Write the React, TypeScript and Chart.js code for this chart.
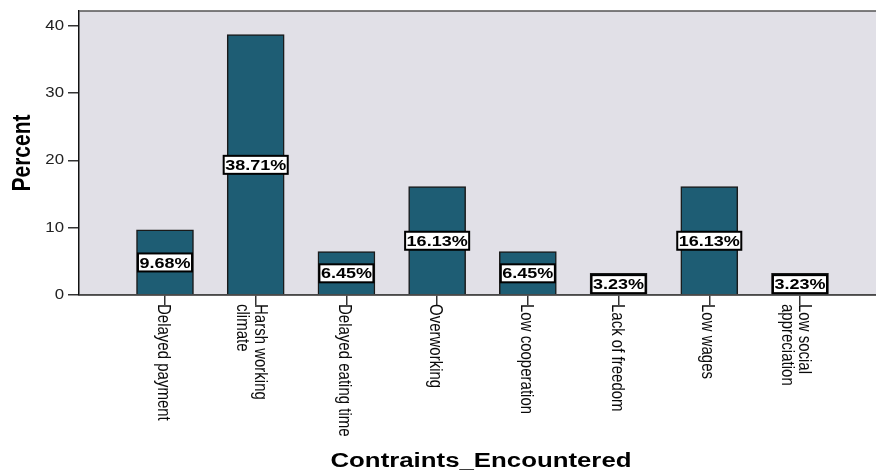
import React, { useEffect, useRef } from "react";
import { Chart, registerables } from "chart.js";

Chart.register(...registerables);

// ---- data ----
const categories: string[][] = [
  ["Delayed payment"],
  ["Harsh working", "climate"],
  ["Delayed eating time"],
  ["Overworking"],
  ["Low cooperation"],
  ["Lack of freedom"],
  ["Low wages"],
  ["Low social", "appreciation"],
];
const percentValues: number[] = [9.68, 38.71, 6.45, 16.13, 6.45, 3.23, 16.13, 3.23];
const valueLabels: string[] = percentValues.map((v) => v.toFixed(2) + "%");
const yTickValues: number[] = [0, 10, 20, 30, 40];
const yAxisTitle = "Percent";
const xAxisTitle = "Contraints_Encountered";

const W = 876;
const H = 471;
const STRETCH = 1.2;
const FONT = '"Liberation Sans", Arial, sans-serif';

const spssPlugin = {
  id: "spssLook",
  beforeDraw(chart: any) {
    const { ctx, chartArea: a } = chart;
    ctx.save();
    ctx.fillStyle = "#e1e0e7";
    ctx.fillRect(a.left, a.top, a.right - a.left, a.bottom - a.top);
    ctx.restore();
  },
  afterDatasetsDraw(chart: any) {
    const { ctx, chartArea: a } = chart;
    const yScale = chart.scales.y;
    const meta = chart.getDatasetMeta(0);
    ctx.save();
    // redraw bottom axis line over the bars
    ctx.strokeStyle = "#4a4a4a";
    ctx.lineWidth = 1.5;
    ctx.beginPath();
    ctx.moveTo(a.left, a.bottom);
    ctx.lineTo(a.right, a.bottom);
    ctx.stroke();

    ctx.font = `bold 15px ${FONT}`;
    meta.data.forEach((el: any, i: number) => {
      const label = valueLabels[i];
      const yMid = yScale.getPixelForValue(percentValues[i] / 2);
      const tw = ctx.measureText(label).width * STRETCH;
      const bw = tw + 3;
      const bh = 18;
      ctx.fillStyle = "#ffffff";
      ctx.fillRect(el.x - bw / 2, yMid - bh / 2, bw, bh);
      ctx.strokeStyle = "#000000";
      ctx.lineWidth = 2;
      ctx.strokeRect(el.x - bw / 2, yMid - bh / 2, bw, bh);
      ctx.save();
      ctx.translate(el.x, yMid + 1);
      ctx.scale(STRETCH, 1);
      ctx.fillStyle = "#000000";
      ctx.textAlign = "center";
      ctx.textBaseline = "middle";
      ctx.fillText(label, 0, 0);
      ctx.restore();
    });
    ctx.restore();
  },
  afterDraw(chart: any) {
    const { ctx, chartArea: a } = chart;
    const xScale = chart.scales.x;
    const yScale = chart.scales.y;
    ctx.save();
    // top border of plot
    ctx.strokeStyle = "#555555";
    ctx.lineWidth = 1.5;
    ctx.beginPath();
    ctx.moveTo(a.left, a.top);
    ctx.lineTo(a.right, a.top);
    ctx.stroke();

    // y tick labels
    ctx.font = `14px ${FONT}`;
    ctx.fillStyle = "#222222";
    ctx.textAlign = "right";
    ctx.textBaseline = "middle";
    yTickValues.forEach((v) => {
      const y = yScale.getPixelForValue(v);
      ctx.save();
      ctx.translate(64, y);
      ctx.scale(STRETCH, 1);
      ctx.fillText(String(v), 0, 0);
      ctx.restore();
    });

    // x category labels, rotated clockwise
    ctx.font = `15px ${FONT}`;
    ctx.fillStyle = "#0a0a0a";
    ctx.textAlign = "left";
    ctx.textBaseline = "middle";
    categories.forEach((lines, i) => {
      const x = xScale.getPixelForValue(i);
      lines.forEach((line, j) => {
        const dx = lines.length === 1 ? -2 : j === 0 ? 4 : 4 - 17.5 * j;
        ctx.save();
        ctx.translate(x + dx, 304);
        ctx.rotate(Math.PI / 2);
        ctx.scale(1, STRETCH);
        ctx.fillText(line, 0, 0);
        ctx.restore();
      });
    });

    // y axis title
    ctx.font = `bold 21px ${FONT}`;
    ctx.fillStyle = "#000000";
    ctx.textAlign = "center";
    ctx.textBaseline = "middle";
    ctx.save();
    ctx.translate(23, 153);
    ctx.rotate(-Math.PI / 2);
    ctx.scale(1, STRETCH);
    ctx.fillText(yAxisTitle, 0, 0);
    ctx.restore();

    // x axis title
    ctx.font = `bold 20px ${FONT}`;
    ctx.save();
    ctx.translate(481, 467);
    ctx.scale(1.29, 1);
    ctx.textBaseline = "alphabetic";
    ctx.fillText(xAxisTitle, 0, 0);
    ctx.restore();

    ctx.restore();
  },
};

export default function App() {
  const ref = useRef<HTMLCanvasElement | null>(null);
  useEffect(() => {
    if (!ref.current) return;
    const chart = new Chart(ref.current, {
      type: "bar",
      data: {
        datasets: [
          {
            data: percentValues.map((v, i) => ({ x: i, y: v })),
            backgroundColor: "#1e5d74",
            borderColor: "#1a1a1a",
            borderWidth: 1.5,
            barThickness: 57,
          } as any,
        ],
      },
      options: {
        animation: false,
        responsive: false,
        layout: { padding: { top: 11, left: 0, right: 0, bottom: 0 } },
        plugins: { legend: { display: false }, tooltip: { enabled: false }, title: { display: false } },
        scales: {
          x: {
            type: "linear",
            min: -0.948,
            max: 7.838,
            offset: false,
            afterBuildTicks: (s: any) => {
              s.ticks = categories.map((_, i) => ({ value: i }));
            },
            afterFit: (s: any) => {
              s.height = 176;
            },
            ticks: { display: false },
            grid: { drawOnChartArea: false, drawTicks: true, tickLength: 10, color: "#333333", lineWidth: 1.5, offset: false },
            border: { display: true, color: "#4a4a4a", width: 1.5 },
          },
          y: {
            min: 0,
            max: 42.23,
            afterBuildTicks: (s: any) => {
              s.ticks = yTickValues.map((v) => ({ value: v }));
            },
            afterFit: (s: any) => {
              s.width = 79;
            },
            ticks: { display: false },
            grid: { drawOnChartArea: false, drawTicks: true, tickLength: 11, color: "#333333", lineWidth: 1.5 },
            border: { display: true, color: "#111111", width: 1.5 },
          },
        },
      } as any,
      plugins: [spssPlugin],
    });
    return () => chart.destroy();
  }, []);
  return (
    <div style={{ position: "fixed", left: 0, top: 0, width: W, height: H, background: "#ffffff", overflow: "hidden" }}>
      <canvas ref={ref} width={W} height={H} style={{ width: W, height: H, display: "block" }} />
    </div>
  );
}
